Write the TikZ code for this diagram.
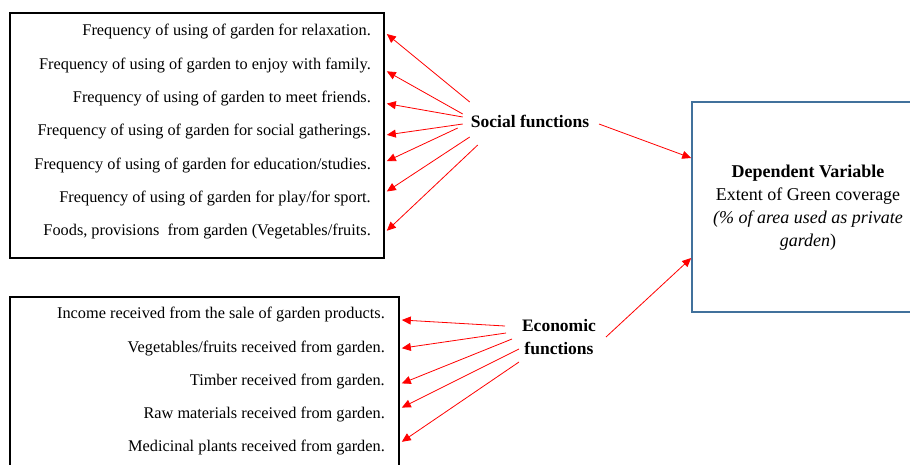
\documentclass[tikz,border=0pt]{standalone}
\usepackage{fontspec}
\setmainfont{Liberation Serif}
\usetikzlibrary{positioning,arrows.meta,calc}
\definecolor{boxblue}{RGB}{65,113,156}
\tikzset{
  item/.style={anchor=east,inner sep=0pt,font=\fontsize{16.3}{19}\selectfont},
  lab/.style={inner sep=1pt,font=\fontsize{17.5}{23}\selectfont\bfseries,align=center},
  arr/.style={draw=red!80,line width=0.8pt,-{Triangle[length=9pt,width=8pt]},color=red}
}
\begin{document}
\begin{tikzpicture}[x=1pt,y=-1pt]
\useasboundingbox (0,0) rectangle (910,464);
% boxes
\node[draw,line width=1.6pt,minimum width=374pt,minimum height=245pt] (box1) at (197,135.5) {};
\node[draw,line width=1.6pt,minimum width=389pt,minimum height=171pt] (box2) at (204.5,382.5) {};
\node[draw=boxblue,line width=1.6pt,minimum width=220pt,minimum height=210pt] (dep) at (802,207) {};
\node[align=center,font=\fontsize{18}{23}\selectfont] (deptext) at (808,208)
  {\textbf{Dependent Variable}\\Extent of Green coverage\\\textit{(\% of area used as private}\\\textit{garden})};
% social items
\foreach \t [count=\i] in {Frequency of using of garden for relaxation.,
  Frequency of using of garden to enjoy with family.,
  Frequency of using of garden to meet friends.,
  Frequency of using of garden for social gatherings.,
  Frequency of using of garden for education/studies.,
  Frequency of using of garden for play/for sport.,
  {Foods, provisions\ \ from garden (Vegetables/fruits.}}
  \node[item] (s\i) at (371,{32+33.3*(\i-1)}) {\t};
% economic items
\foreach \t [count=\i] in {Income received from the sale of garden products.,
  Vegetables/fruits received from garden.,
  Timber received from garden.,
  Raw materials received from garden.,
  Medicinal plants received from garden.}
  \node[item] (e\i) at (385,{315+33.2*(\i-1)}) {\t};
% labels
\node[lab] (soc) at (530,121) {Social functions};
\node[lab] (eco) at (559,337) {Economic\\functions};
\coordinate (socout) at ([shift={(69,3)}]soc.center);
\coordinate (ecoout) at ([shift={(47,0)}]eco.center);
% arrows
\foreach \dx/\dy/\i/\ey in {0/-19/1/2, -7/-7/2/6, -7/-4/3/5, -7/3/4/3, -12/7/5/-4, 0/16/6/-7, 8/24/7/-1}
  \draw[arr] ([shift={(\dx,\dy)}]soc.west) -- ([shift={(2,\ey)}]s\i.east -| box1.east);
\foreach \dx/\dy/\i/\ey in {-54/-11/1/5, -53/-4/2/0, -47/2/3/2, -40/12/4/-7, -40/25/5/-6}
  \draw[arr] ([shift={(\dx,\dy)}]eco.center) -- ([shift={(2,\ey)}]e\i.east -| box2.east);
\draw[arr] (socout) -- ([shift={(0,-49)}]dep.west);
\draw[arr] (ecoout) -- ([shift={(0,51)}]dep.west);
\end{tikzpicture}
\end{document}
